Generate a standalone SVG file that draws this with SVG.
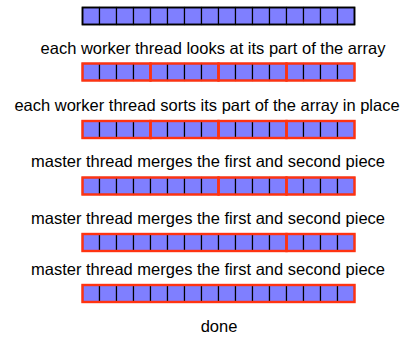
<svg xmlns="http://www.w3.org/2000/svg" width="416" height="337" viewBox="0 0 416 337">
<defs>
<style>
.t{font-family:"Liberation Sans",Arial,sans-serif;font-size:16.5px;fill:#000;text-anchor:middle}
.c{fill:#7f7fff;stroke:#000;stroke-width:1.2}
.g{fill:none;stroke:#ff3311;stroke-width:2.4}
</style>
<g id="cells">
<rect class="c" x="0" y="0" width="17" height="17"/><rect class="c" x="17" y="0" width="17" height="17"/>
<rect class="c" x="34" y="0" width="17" height="17"/><rect class="c" x="51" y="0" width="17" height="17"/>
<rect class="c" x="68" y="0" width="17" height="17"/><rect class="c" x="85" y="0" width="17" height="17"/>
<rect class="c" x="102" y="0" width="17" height="17"/><rect class="c" x="119" y="0" width="17" height="17"/>
<rect class="c" x="136" y="0" width="17" height="17"/><rect class="c" x="153" y="0" width="17" height="17"/>
<rect class="c" x="170" y="0" width="17" height="17"/><rect class="c" x="187" y="0" width="17" height="17"/>
<rect class="c" x="204" y="0" width="17" height="17"/><rect class="c" x="221" y="0" width="17" height="17"/>
<rect class="c" x="238" y="0" width="17" height="17"/><rect class="c" x="255" y="0" width="17" height="17"/>
</g>
</defs>
<g id="array0"><use href="#cells" x="82.5" y="7.5"/><rect x="82.5" y="7.5" width="272" height="17" fill="none" stroke="#000" stroke-width="1.8"/></g>
<g id="label1"><text class="t" x="213" y="54">each worker thread looks at its part of the array</text></g>
<g id="array1"><use href="#cells" x="82.5" y="63.5"/>
<rect class="g" x="82.5" y="63.5" width="68" height="17"/><rect class="g" x="150.5" y="63.5" width="68" height="17"/>
<rect class="g" x="218.5" y="63.5" width="68" height="17"/><rect class="g" x="286.5" y="63.5" width="68" height="17"/></g>
<g id="label2"><text class="t" x="207" y="111">each worker thread sorts its part of the array in place</text></g>
<g id="array2"><use href="#cells" x="82.5" y="121"/>
<rect class="g" x="82.5" y="121" width="68" height="17"/><rect class="g" x="150.5" y="121" width="68" height="17"/>
<rect class="g" x="218.5" y="121" width="68" height="17"/><rect class="g" x="286.5" y="121" width="68" height="17"/></g>
<g id="label3"><text class="t" x="208" y="167">master thread merges the first and second piece</text></g>
<g id="array3"><use href="#cells" x="82.5" y="177.5"/>
<rect class="g" x="82.5" y="177.5" width="136" height="17"/>
<rect class="g" x="218.5" y="177.5" width="68" height="17"/><rect class="g" x="286.5" y="177.5" width="68" height="17"/></g>
<g id="label4"><text class="t" x="208" y="224">master thread merges the first and second piece</text></g>
<g id="array4"><use href="#cells" x="82.5" y="234"/>
<rect class="g" x="82.5" y="234" width="204" height="17"/><rect class="g" x="286.5" y="234" width="68" height="17"/></g>
<g id="label5"><text class="t" x="208" y="275">master thread merges the first and second piece</text></g>
<g id="array5"><use href="#cells" x="82.5" y="285"/>
<rect class="g" x="82.5" y="285" width="272" height="17"/></g>
<g id="label6"><text class="t" x="219" y="332">done</text></g>
</svg>
